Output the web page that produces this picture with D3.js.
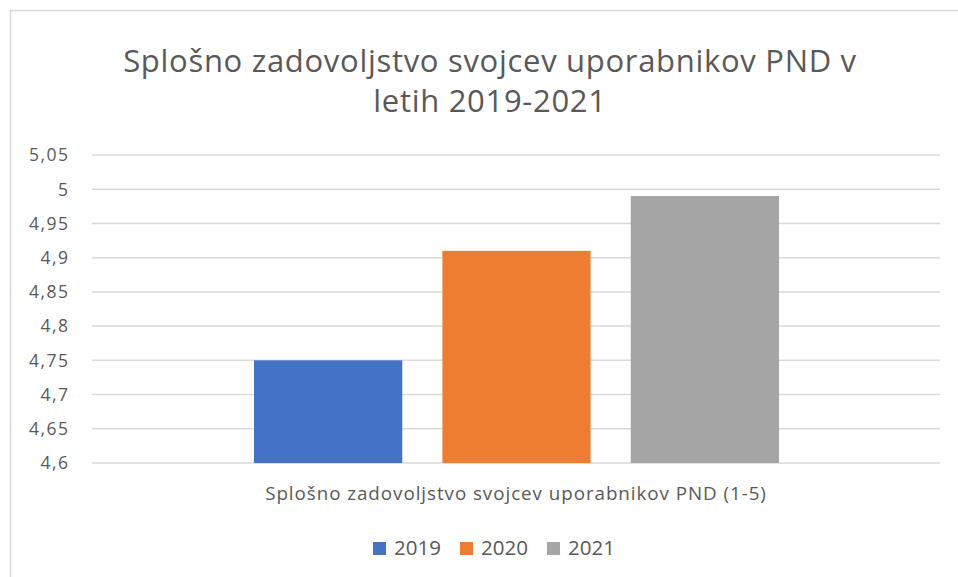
<!DOCTYPE html>
<html>
<head>
<meta charset="utf-8">
<script src="https://cdn.jsdelivr.net/npm/d3@7"></script>
<style>
  body { margin: 0; background: #fff; }
  text { font-family: "Open Sans", sans-serif; fill: #595959; }
</style>
</head>
<body>
<svg id="chart" width="958" height="577"></svg>
<script>
// data
var categories = ["Splošno zadovoljstvo svojcev uporabnikov PND (1-5)"];
var years = ["2019", "2020", "2021"];
var values = [4.75, 4.91, 4.99];
var colors = ["#4472c4", "#ed7d31", "#a5a5a5"];
var yTicks = [4.6, 4.65, 4.7, 4.75, 4.8, 4.85, 4.9, 4.95, 5, 5.05];
var titleLines = ["Splošno zadovoljstvo svojcev uporabnikov PND v", "letih 2019-2021"];

var svg = d3.select("#chart");
var margin = { left: 92, right: 18, top: 155, bottom: 114 };
var W = 958, H = 577;

// chart border
svg.append("rect")
    .attr("x", 10.5).attr("y", 10.5)
    .attr("width", 970).attr("height", 600)
    .attr("fill", "none").attr("stroke", "#d9d9d9").attr("stroke-width", 1.5);

var y = d3.scaleLinear().domain([4.6, 5.05]).range([H - margin.bottom, margin.top]);
var x0 = d3.scaleBand().domain(categories).range([margin.left, W - margin.right]);
var x1 = d3.scaleBand().domain(years)
    .range([254 - margin.left, 779 - margin.left]).paddingInner(0.213);

// gridlines
svg.append("g").selectAll("line").data(yTicks).enter().append("line")
    .attr("x1", margin.left).attr("x2", W - margin.right)
    .attr("y1", function (d) { return y(d); })
    .attr("y2", function (d) { return y(d); })
    .attr("stroke", "#d9d9d9").attr("stroke-width", 1.5);

// y labels
svg.append("g").selectAll("text").data(yTicks).enter().append("text")
    .attr("x", 69.5)
    .attr("y", function (d) { return y(d); })
    .attr("dy", "0.36em")
    .attr("text-anchor", "end")
    .attr("font-size", "17.5px")
    .attr("letter-spacing", "1.5px")
    .text(function (d) { return String(d).replace(".", ","); });

// bars
svg.append("g").selectAll("rect").data(values).enter().append("rect")
    .attr("x", function (d, i) { return x0(categories[0]) + x1(years[i]); })
    .attr("width", x1.bandwidth())
    .attr("y", function (d) { return y(d); })
    .attr("height", function (d) { return y(4.6) - y(d); })
    .attr("fill", function (d, i) { return colors[i]; });

// category label
svg.append("text")
    .attr("x", x0(categories[0]) + x0.bandwidth() / 2)
    .attr("y", 500)
    .attr("text-anchor", "middle")
    .attr("font-size", "18.8px")
    .attr("letter-spacing", "0.95px")
    .text(categories[0]);

// title
svg.append("g").selectAll("text").data(titleLines).enter().append("text")
    .attr("x", 490)
    .attr("y", function (d, i) { return 72 + i * 40; })
    .attr("text-anchor", "middle")
    .attr("font-size", "31px")
    .attr("letter-spacing", "0.7px")
    .text(function (d) { return d; });

// legend
var legend = svg.append("g").selectAll("g").data(years).enter().append("g")
    .attr("transform", function (d, i) { return "translate(" + (373 + i * 87) + ",542)"; });
legend.append("rect")
    .attr("width", 13).attr("height", 13)
    .attr("fill", function (d, i) { return colors[i]; });
legend.append("text")
    .attr("x", 21).attr("y", 13)
    .attr("font-size", "20.5px")
    .text(function (d) { return d; });
</script>
</body>
</html>
